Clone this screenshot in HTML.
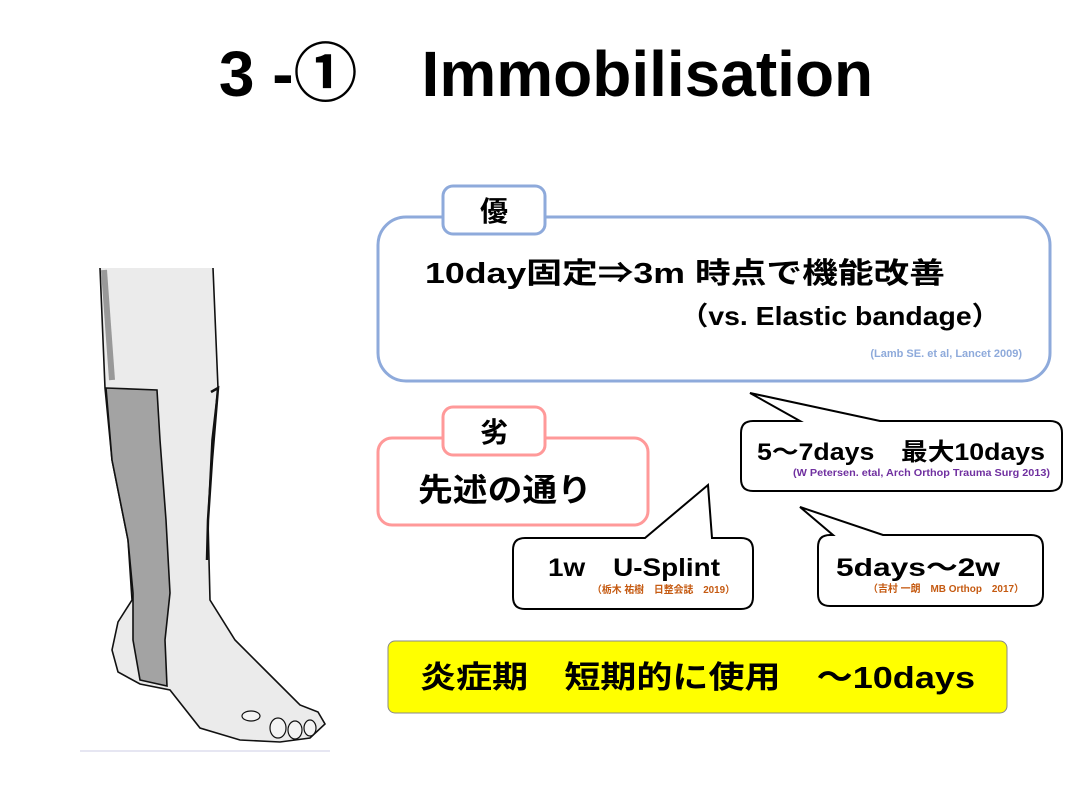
<!DOCTYPE html>
<html><head><meta charset="utf-8"><style>
body{margin:0;background:#fff;}
svg{display:block;}
text{font-family:"Liberation Sans","Noto Sans CJK JP",sans-serif;font-weight:bold;}
</style></head><body>
<svg width="1080" height="810" viewBox="0 0 1080 810" xmlns="http://www.w3.org/2000/svg">
<rect width="1080" height="810" fill="#fff"/>
<text x="546" y="96" font-size="64" text-anchor="middle">3 -①　Immobilisation</text>

<!-- leg -->
<line x1="80" y1="751" x2="330" y2="751" stroke="#dde" stroke-width="1.5"/>
<path d="M100,268 L105,388 L112,460 L128,540 L132,600 L118,622 L112,650 L118,672 L140,684 L170,690 L200,728 L240,740 L280,742 L310,738 L325,724 L318,712 L300,705 L265,670 L235,640 L210,600 L208,520 L212,440 L218,388 L213,268 Z" fill="#ebebeb" stroke="none"/>
<path d="M100,268 L105,388 L112,460 L128,540 L132,600 L118,622 L112,650 L118,672 L140,684 L170,690 L200,728 L240,740 L280,742 L310,738 L325,724 L318,712 L300,705 L265,670 L235,640 L210,600 L208,520 L212,440 L218,388 L213,268" fill="none" stroke="#111" stroke-width="1.6"/>
<path d="M106,388 L157,390 L160,440 L166,520 L170,593 L165,640 L167,686 L140,680 L133,640 L133,593 L128,540 L112,460 Z" fill="#a3a3a3" stroke="#111" stroke-width="1.6"/>
<path d="M211,392 L218,388 L212,460 L208,520 L207,560" fill="none" stroke="#111" stroke-width="2.5"/>
<path d="M104,270 L112,380" stroke="#999" stroke-width="6" fill="none"/>
<ellipse cx="251" cy="716" rx="9" ry="5" fill="#f4f4f4" stroke="#111" stroke-width="1.2"/>
<ellipse cx="278" cy="728" rx="8" ry="10" fill="#f4f4f4" stroke="#111" stroke-width="1.2"/>
<ellipse cx="295" cy="730" rx="7" ry="9" fill="#f4f4f4" stroke="#111" stroke-width="1.2"/>
<ellipse cx="310" cy="728" rx="6" ry="8" fill="#f4f4f4" stroke="#111" stroke-width="1.2"/>

<!-- blue box -->
<rect x="378" y="217" width="672" height="164" rx="28" fill="#fff" stroke="#8eaadb" stroke-width="3"/>
<rect x="443" y="186" width="102" height="48" rx="10" fill="#fff" stroke="#8eaadb" stroke-width="3"/>
<text x="494" y="221" font-size="28" text-anchor="middle">優</text>
<text x="425" y="283" font-size="29" textLength="520" lengthAdjust="spacingAndGlyphs">10day固定⇒3m 時点で機能改善</text>
<text x="680" y="325" font-size="26" textLength="320" lengthAdjust="spacingAndGlyphs">（vs. Elastic bandage）</text>
<text x="1022" y="357" font-size="11" fill="#8eaadb" text-anchor="end">(Lamb SE. et al, Lancet 2009)</text>

<!-- pink box -->
<rect x="378" y="438" width="270" height="87" rx="14" fill="#fff" stroke="#ff9999" stroke-width="3"/>
<rect x="443" y="407" width="102" height="48" rx="10" fill="#fff" stroke="#ff9999" stroke-width="3"/>
<text x="494" y="442" font-size="28" text-anchor="middle">劣</text>
<text x="418" y="501" font-size="32" textLength="174" lengthAdjust="spacingAndGlyphs">先述の通り</text>

<!-- callout 1 -->
<path d="M753,421 L800,421 L750,393 L880,421 L1050,421 Q1062,421 1062,433 L1062,479 Q1062,491 1050,491 L753,491 Q741,491 741,479 L741,433 Q741,421 753,421 Z" fill="#fff" stroke="#000" stroke-width="2"/>
<text x="757" y="460" font-size="24" textLength="288" lengthAdjust="spacingAndGlyphs">5〜7days　最大10days</text>
<text x="1050" y="476" font-size="10" fill="#7030a0" text-anchor="end" textLength="257" lengthAdjust="spacingAndGlyphs">(W Petersen. etal, Arch Orthop Trauma Surg 2013)</text>

<!-- callout 2 -->
<path d="M525,538 L645,538 L708,485 L712,538 L741,538 Q753,538 753,550 L753,597 Q753,609 741,609 L525,609 Q513,609 513,597 L513,550 Q513,538 525,538 Z" fill="#fff" stroke="#000" stroke-width="2"/>
<text x="548" y="576" font-size="25" textLength="172" lengthAdjust="spacingAndGlyphs">1w　U-Splint</text>
<text x="735" y="593" font-size="10" fill="#c55a11" text-anchor="end" textLength="143" lengthAdjust="spacingAndGlyphs">（栃木 祐樹　日整会誌　2019）</text>

<!-- callout 3 -->
<path d="M830,535 L833,535 L800,507 L883,535 L1031,535 Q1043,535 1043,547 L1043,594 Q1043,606 1031,606 L830,606 Q818,606 818,594 L818,547 Q818,535 830,535 Z" fill="#fff" stroke="#000" stroke-width="2"/>
<text x="836" y="576" font-size="25" textLength="164" lengthAdjust="spacingAndGlyphs">5days〜2w</text>
<text x="1024" y="592" font-size="10" fill="#c55a11" text-anchor="end" textLength="156" lengthAdjust="spacingAndGlyphs">（吉村 一朗　MB Orthop　2017）</text>

<!-- yellow box -->
<rect x="388" y="641" width="619" height="72" rx="7" fill="#ffff00" stroke="#888" stroke-width="1"/>
<text x="420" y="688" font-size="31" textLength="555" lengthAdjust="spacingAndGlyphs">炎症期　短期的に使用　～10days</text>
</svg>
</body></html>
